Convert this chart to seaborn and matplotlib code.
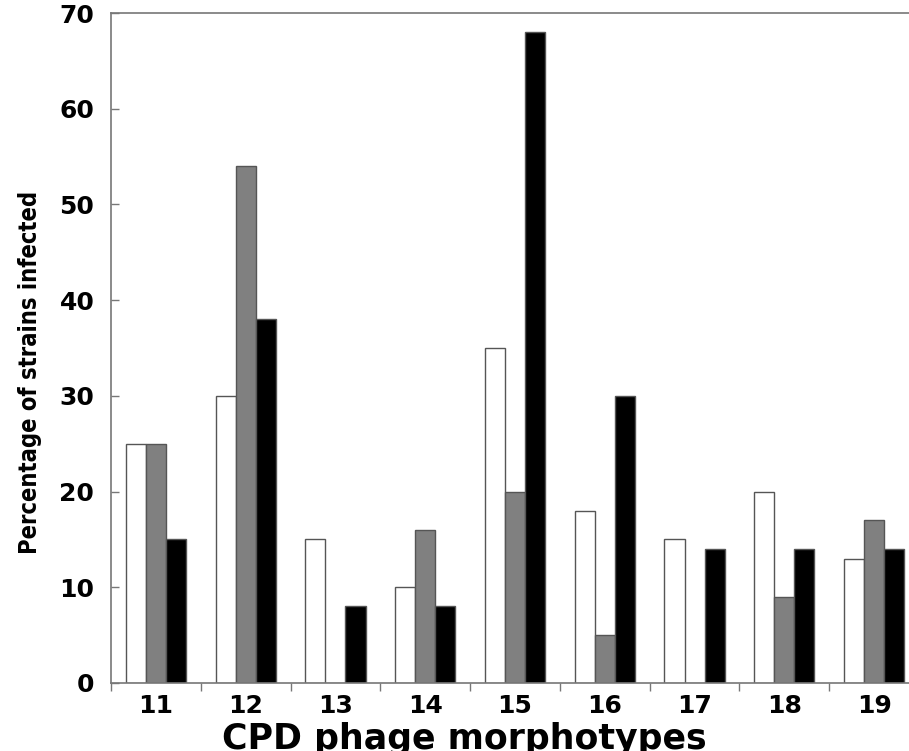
import numpy as np
import pandas as pd
import matplotlib
matplotlib.use("Agg")
import matplotlib.pyplot as plt
import seaborn as sns

morphotypes = ["11", "12", "13", "14", "15", "16", "17", "18", "19"]
series_names = ["Series 1", "Series 2", "Series 3"]
white_vals = [25, 30, 15, 10, 35, 18, 15, 20, 13]
gray_vals = [25, 54, 0, 16, 20, 5, 0, 9, 17]
black_vals = [15, 38, 8, 8, 68, 30, 14, 14, 14]
yticks = [0, 10, 20, 30, 40, 50, 60, 70]

rows = []
for name, vals in zip(series_names, [white_vals, gray_vals, black_vals]):
    for m, v in zip(morphotypes, vals):
        rows.append({"morphotype": m, "series": name, "percent": v})
df = pd.DataFrame(rows)

sns.set_style("ticks")
plt.rcParams["font.family"] = ["DejaVu Sans"]

fig = plt.figure(figsize=(9.09, 7.51), dpi=100)
ax = fig.add_axes([111 / 909, 68 / 751, 808 / 909, 670 / 751])

palette = {"Series 1": "#ffffff", "Series 2": "#808080", "Series 3": "#000000"}
sns.barplot(data=df, x="morphotype", y="percent", hue="series", order=morphotypes,
            hue_order=series_names, palette=palette, width=0.67, gap=0,
            edgecolor="#555555", linewidth=1.0, saturation=1, legend=False, ax=ax)

ax.set_xlim(-0.5, len(morphotypes) - 0.5)
ax.set_ylim(0, 70)
ax.set_yticks(yticks)
ax.set_yticklabels([str(t) for t in yticks], fontsize=18, fontweight="bold", color="black")
ax.tick_params(axis="y", direction="in", length=6, width=1, color="#777777", pad=12)

ax.set_xticks(range(len(morphotypes)))
ax.set_xticklabels(morphotypes, fontsize=18, fontweight="bold", color="black")
ax.set_xticks(np.arange(len(morphotypes) + 1) - 0.5, minor=True)
ax.tick_params(axis="x", which="major", length=0, pad=8)
ax.tick_params(axis="x", which="minor", direction="out", length=6, width=1, color="#777777")

for side in ["left", "top", "bottom"]:
    ax.spines[side].set_color("#777777")
    ax.spines[side].set_linewidth(1.2)
ax.spines["right"].set_visible(False)

ax.set_xlabel("CPD phage morphotypes", fontsize=25, fontweight="bold", color="black")
ax.xaxis.set_label_coords((464 - 111) / 808, (683 - 722) / 670)
ax.xaxis.label.set_va("top")

ax.set_ylabel("Percentage of strains infected", fontsize=17, fontweight="bold",
              color="black", fontstretch="condensed",
              family=["Liberation Sans Narrow", "DejaVu Sans Condensed", "DejaVu Sans"])
ax.yaxis.set_label_coords((30 - 111) / 808, (683 - 372) / 670)
ax.yaxis.label.set_va("center")

fig.savefig("out.png", dpi=100)
